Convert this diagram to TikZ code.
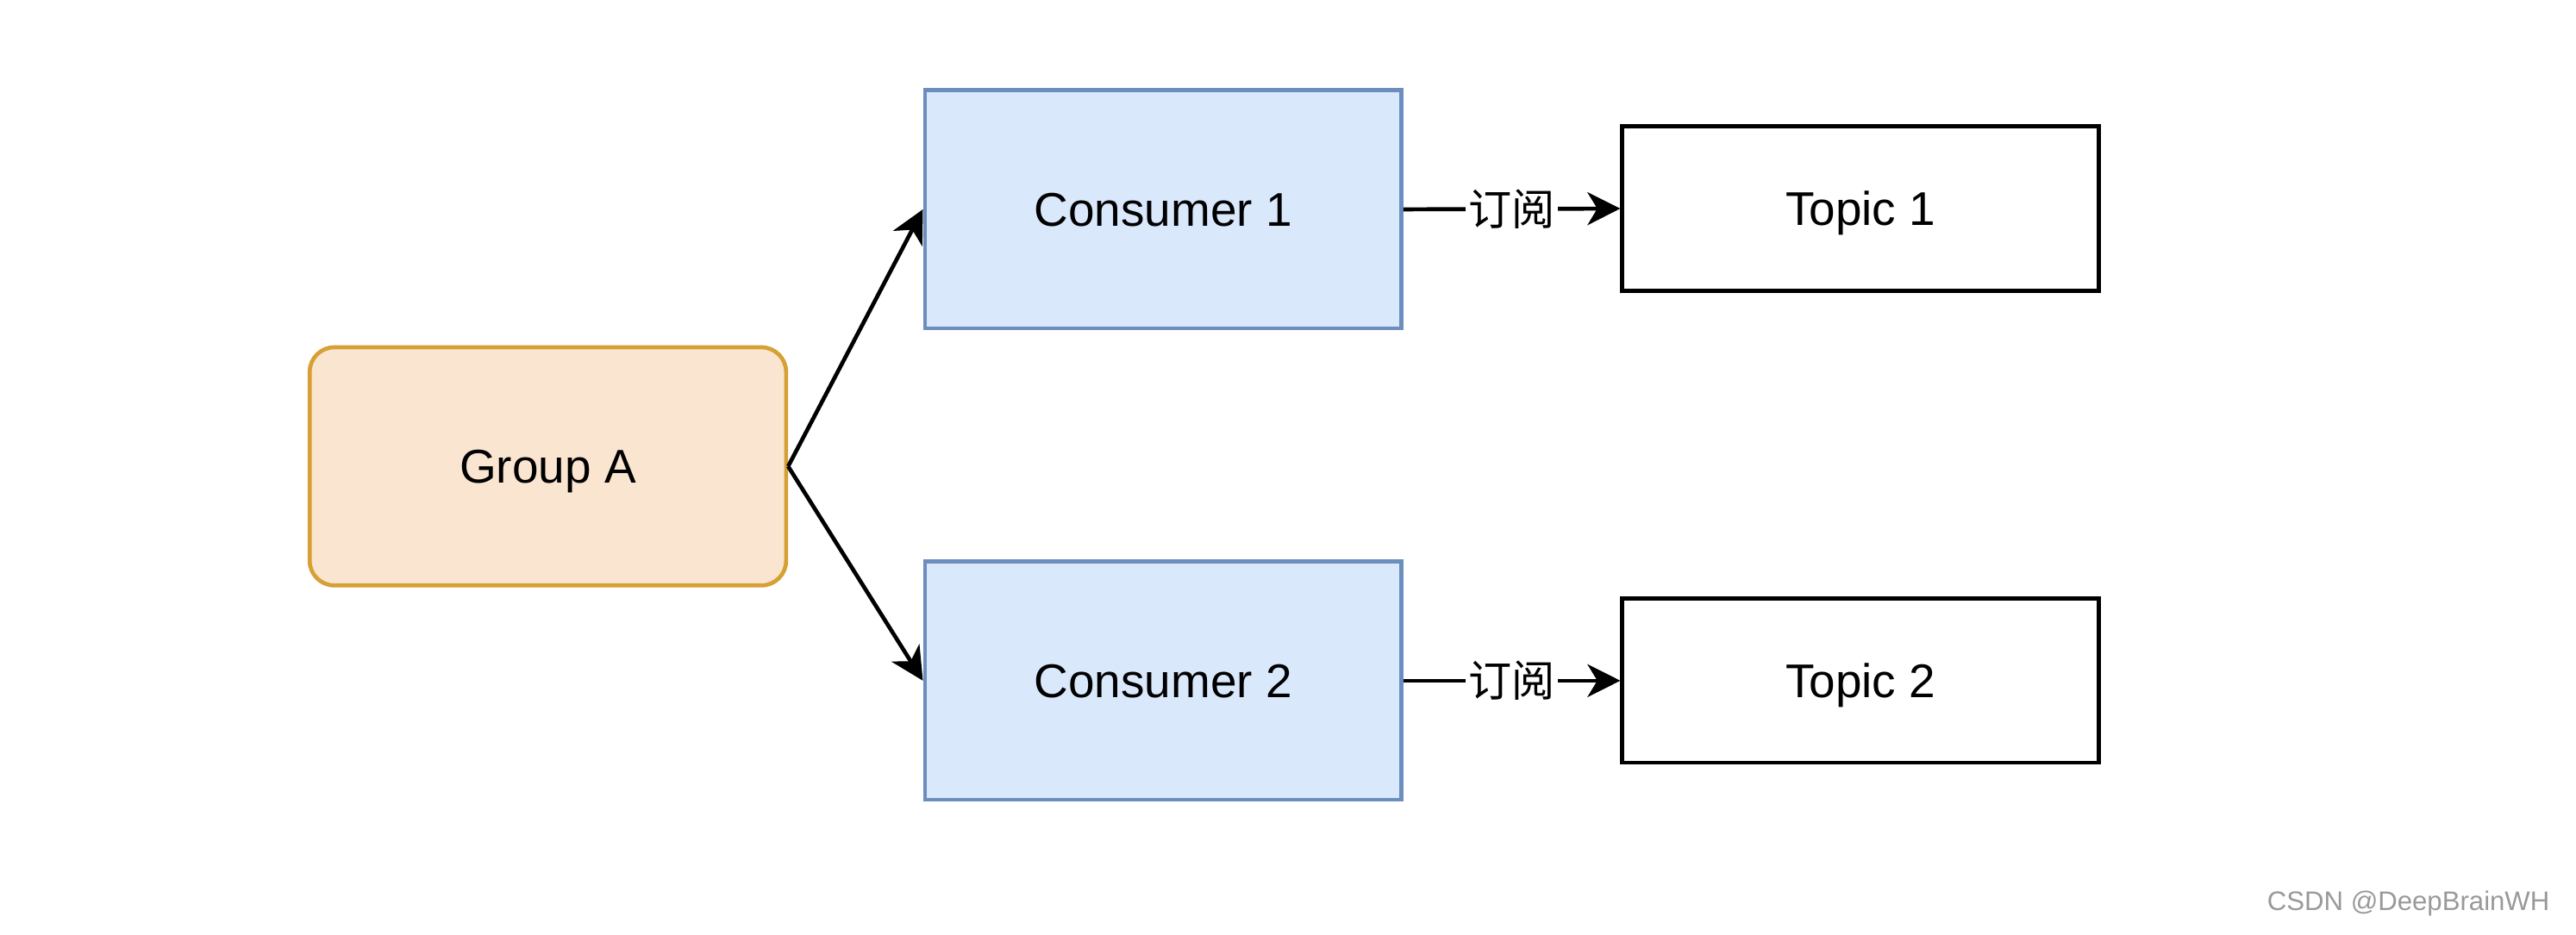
\documentclass[tikz,border=0pt]{standalone}
\usepackage{fontspec}
\setmainfont{Liberation Sans}
\newfontfamily\cjkfont{Noto Sans CJK SC}
\usetikzlibrary{arrows.meta, positioning}
\definecolor{groupfill}{HTML}{FAE6D0}
\definecolor{groupline}{HTML}{D6A035}
\definecolor{consfill}{HTML}{DAE8FC}
\definecolor{consline}{HTML}{6C8EBF}

\begin{document}
\begin{tikzpicture}[
    box/.style={rectangle, draw, line width=0.7pt, inner sep=0pt, text depth=0pt, minimum width=2.9cm, minimum height=1.45cm, font=\fontsize{8.2}{10}\selectfont},
    link/.style={-{Stealth[length=2mm, width=2mm, inset=0.6mm]}, line width=0.7pt}
]
\useasboundingbox (0,0) rectangle (15.68,5.69);

% Group on the left
\node[box, rounded corners=0.15cm, fill=groupfill, draw=groupline] (grp) at (3.335,2.85) {Group A};

% Consumers
\node[box, fill=consfill, draw=consline] (cons1) at (7.08,4.415) {Consumer 1};
\node[box, fill=consfill, draw=consline] (cons2) at (7.08,1.545) {Consumer 2};

% Topics
\node[box, minimum height=1cm] (top1) at (11.325,4.42) {Topic 1};
\node[box, minimum height=1cm] (top2) at (11.325,1.545) {Topic 2};

% Arrows from group
\draw[link] (grp.east) -- (cons1.west);
\draw[link] (grp.east) -- (cons2.west);

% Subscriptions
\draw[link] (cons1.east) -- node[fill=white, inner sep=0.5pt, font=\cjkfont\fontsize{7.5}{9}\selectfont] (sub1) {订阅} (top1.west);
\draw[link] (cons2.east) -- node[fill=white, inner sep=0.5pt, font=\cjkfont\fontsize{7.5}{9}\selectfont] (sub2) {订阅} (top2.west);

% Watermark
\node[text=black!40, font=\fontsize{4.65}{6}\selectfont] (mark) at (14.66,0.19) {CSDN @DeepBrainWH};
\end{tikzpicture}
\end{document}
